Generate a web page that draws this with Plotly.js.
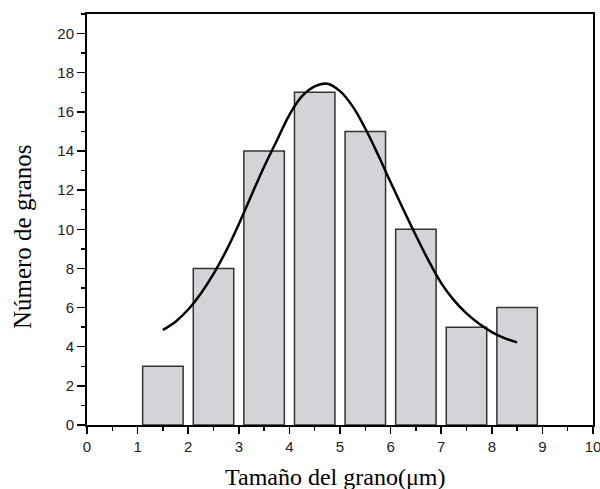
<!DOCTYPE html>
<html>
<head>
<meta charset="utf-8">
<script src="https://cdn.plot.ly/plotly-3.0.1.min.js"></script>
<style>html,body{margin:0;padding:0;background:#fff;}#chart{width:600px;height:489px;}</style>
</head>
<body>
<div id="chart"></div>
<script>
// Histogram bins (bin centres, µm) and counts
const binCenters = [1.5, 2.5, 3.5, 4.5, 5.5, 6.5, 7.5, 8.5];
const counts = [3, 8, 14, 17, 15, 10, 5, 6];

// Fitted curve, points (every 0.25 µm)
const fitX = [1.5, 1.75, 2.0, 2.25, 2.5, 2.75, 3.0, 3.25, 3.5, 3.75, 4.0, 4.25, 4.5, 4.75, 5.0,
              5.25, 5.5, 5.75, 6.0, 6.25, 6.5, 6.75, 7.0, 7.25, 7.5, 7.75, 8.0, 8.25, 8.5];
const fitY = [4.86, 5.28, 5.90, 6.72, 7.72, 8.90, 10.26, 11.74, 13.20, 14.52, 15.85, 16.80, 17.30, 17.44, 17.06,
              16.28, 15.15, 13.82, 12.40, 11.02, 9.68, 8.40, 7.25, 6.38, 5.70, 5.17, 4.75, 4.44, 4.22];

const xTitle = 'Tamaño del grano(μm)';
const yTitle = 'Número de granos';

const traces = [
  {
    type: 'bar', x: binCenters, y: counts, width: 0.8,
    marker: {color: '#d4d3d7', line: {color: '#333333', width: 1.5}},
    hoverinfo: 'x+y'
  },
  {
    type: 'scatter', mode: 'lines', x: fitX, y: fitY,
    line: {color: '#000000', width: 2.5, shape: 'spline', smoothing: 1}
  }
];

const tickFont = {family: 'Liberation Sans, Arial, sans-serif', size: 15, color: '#222'};
const serif = 'Liberation Serif, Times New Roman, serif';

const layout = {
  width: 600, height: 489,
  margin: {l: 87, r: 7, t: 14, b: 64, pad: 0},
  paper_bgcolor: '#fff', plot_bgcolor: '#fff',
  showlegend: false,
  xaxis: {
    range: [0, 10], dtick: 1, tick0: 0,
    showgrid: false, zeroline: false,
    showline: true, linecolor: '#000', linewidth: 2, mirror: true,
    ticks: 'outside', ticklen: 7, tickwidth: 1.5, tickcolor: '#000',
    minor: {dtick: 0.5, ticklen: 4, tickwidth: 1.5, tickcolor: '#000', ticks: 'outside', showgrid: false},
    tickfont: tickFont, ticklabeloverflow: 'allow'
  },
  yaxis: {
    range: [0, 21], dtick: 2, tick0: 0,
    showgrid: false, zeroline: false,
    showline: true, linecolor: '#000', linewidth: 2, mirror: true,
    ticks: 'outside', ticklen: 8, tickwidth: 1.5, tickcolor: '#000',
    minor: {dtick: 1, ticklen: 4, tickwidth: 1.5, tickcolor: '#000', ticks: 'outside', showgrid: false},
    tickfont: tickFont, ticklabeloverflow: 'allow'
  },
  annotations: [
    {text: xTitle, xref: 'paper', yref: 'paper', x: 0.4904, y: -0.1257,
     xanchor: 'center', yanchor: 'middle', showarrow: false,
     font: {family: serif, size: 24, color: '#000'}},
    {text: yTitle, xref: 'paper', yref: 'paper', x: -0.127, y: 0.459,
     xanchor: 'center', yanchor: 'middle', showarrow: false, textangle: -90,
     font: {family: serif, size: 25, color: '#000'}}
  ]
};

Plotly.newPlot('chart', traces, layout, {displayModeBar: false, staticPlot: true});
</script>
</body>
</html>
